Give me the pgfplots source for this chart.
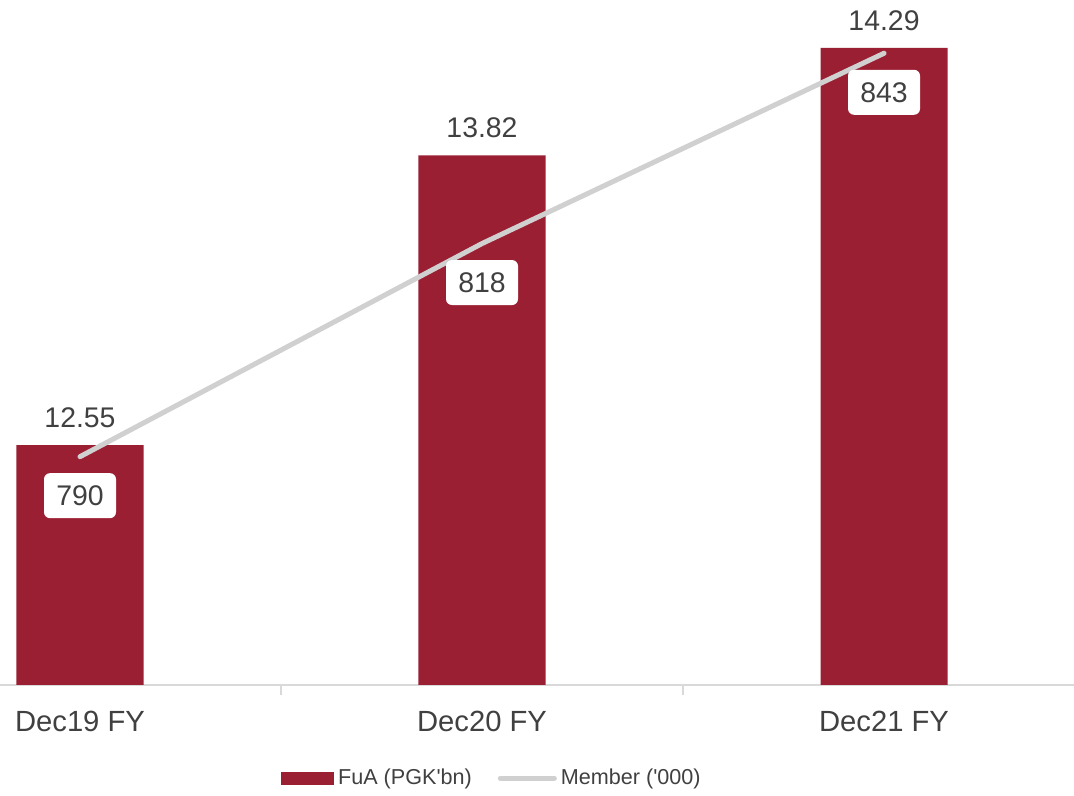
\documentclass[border=0pt]{standalone}
\usepackage{pgfplots}
\pgfplotsset{compat=1.18}
\usepackage{fontspec}
\setmainfont{Liberation Sans}
\definecolor{barred}{HTML}{9B1F33}
\definecolor{linegrey}{HTML}{D0D0D0}
\definecolor{axisgrey}{HTML}{D9D9D9}
\definecolor{textgrey}{HTML}{404040}
\begin{document}
\begin{tikzpicture}
\path[use as bounding box] (0,-55.5pt) rectangle (537pt,342.5pt);
\begin{axis}[
  scale only axis, width=537pt, height=342.5pt,
  xmin=-0.199, xmax=2.4726, ymin=11.5, ymax=14.5,
  axis x line*=bottom, axis y line=none,
  x axis line style={draw=axisgrey, line width=1pt, -},
  xtick={0,1,2}, xticklabels={Dec19 FY,Dec20 FY,Dec21 FY},
  xtick style={draw=none},
  xticklabel style={font=\fontsize{14.6}{17}\selectfont, text=textgrey, yshift=-9.5pt},
  extra x ticks={0.5,1.5}, extra x tick labels={},
  extra x tick style={xtick style={draw=axisgrey, line width=1pt}, major tick length=5pt, tick align=outside},
  clip=false,
]
\addplot[ybar, bar width=0.316, fill=barred, draw=none,
  nodes near coords={\pgfmathprintnumber[fixed,fixed zerofill,precision=2,assume math mode=true]{\pgfplotspointmeta}},
  nodes near coords style={font=\fontsize{14.2}{17}\selectfont, text=textgrey, anchor=south, yshift=5pt}]
  coordinates {(0,12.55) (1,13.82) (2,14.29)};
\end{axis}
\begin{axis}[
  scale only axis, width=537pt, height=342.5pt,
  xmin=-0.199, xmax=2.4726, ymin=760, ymax=850,
  hide x axis, hide y axis,
  clip=false,
  legend columns=2,
  legend style={draw=none, fill=none, at={(0.459,-0.136)}, anchor=center,
    font=\fontsize{10.8}{13}\selectfont, text=textgrey,
    /tikz/every even column/.append style={column sep=11pt}},
]
\addlegendimage{legend image code/.code={\fill[barred] (0pt,-3pt) rectangle (26pt,3pt);}}
\addlegendentry{FuA (PGK\textquotesingle bn)}
\addplot[linegrey, line width=2.5pt, line cap=round,
  legend image code/.code={\draw[linegrey, line width=2.5pt, line cap=round] (0pt,0pt) -- (27pt,0pt);},
  nodes near coords={\pgfmathprintnumber[fixed,precision=0,assume math mode=true]{\pgfplotspointmeta}},
  nodes near coords style={font=\fontsize{14.2}{17}\selectfont, text=textgrey, fill=white,
    rounded corners=3pt, anchor=north, yshift=-7pt, minimum width=36pt, minimum height=22.5pt}]
  coordinates {(0,790) (1,818) (2,843)};
\addlegendentry{Member (\textquotesingle 000)}
\end{axis}
\end{tikzpicture}
\end{document}
